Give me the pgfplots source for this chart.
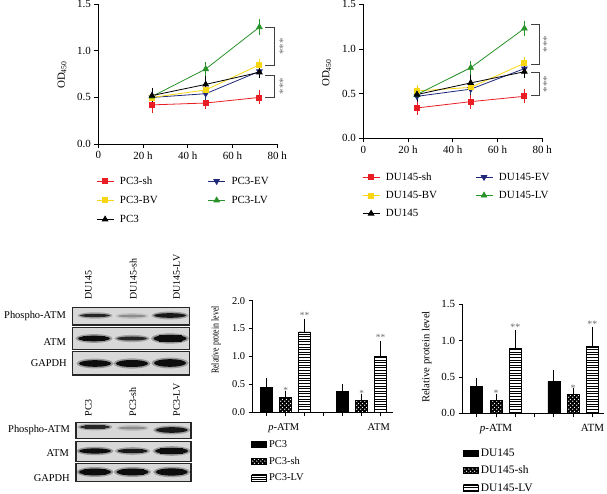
\documentclass[border=0pt]{standalone}
\usepackage{fontspec}
\setmainfont{Liberation Serif}
\usepackage{pgfplots}
\pgfplotsset{compat=1.18}
\usetikzlibrary{patterns}

\definecolor{cred}{RGB}{232,30,36}
\definecolor{cyel}{RGB}{248,214,20}
\definecolor{cblu}{RGB}{32,40,122}
\definecolor{cgrn}{RGB}{40,145,40}
\definecolor{blotbg}{RGB}{216,216,216}
\definecolor{stargray}{RGB}{110,110,110}

\pgfdeclarepatternformonly{wdots}{\pgfqpoint{0bp}{0bp}}{\pgfqpoint{4bp}{4bp}}{\pgfqpoint{4bp}{4bp}}{%
 \pgfpathcircle{\pgfqpoint{1bp}{1bp}}{0.8bp}%
 \pgfpathcircle{\pgfqpoint{3bp}{3bp}}{0.8bp}%
 \pgfusepath{fill}}
\pgfdeclarepatternformonly{hstripes}{\pgfqpoint{-1bp}{0bp}}{\pgfqpoint{21bp}{2.6bp}}{\pgfqpoint{20bp}{2.6bp}}{%
 \pgfsetlinewidth{1bp}%
 \pgfpathmoveto{\pgfqpoint{-1bp}{1.3bp}}\pgfpathlineto{\pgfqpoint{21bp}{1.3bp}}%
 \pgfusepath{stroke}}

\newcommand\fs[1]{\fontsize{#1}{#1}\selectfont}
% band: x y halfwidth halfheight darkness(percent)
\newcommand\band[5]{%
 \fill[black!#5, opacity=0.3] (#1,#2) ellipse ({#3+2.5} and {#4+1.6});
 \fill[black!#5] (#1,#2) ellipse (#3 and #4);
 \fill[black!#5] ({#1-#3+5},{#2-#4*0.85}) rectangle ({#1+#3-5},{#2+#4*0.85});
}

\pgfplotsset{
 lineax/.style={scale only axis, width=179bp, xmin=0, xmax=80, ymin=0, ymax=1.5,
   axis x line*=bottom, axis y line*=left, tick align=outside, major tick length=4bp,
   xtick={0,20,40,60,80}, xticklabels={0,20 h,40 h,60 h,80 h},
   ytick={0,0.5,1,1.5}, yticklabels={0.0,0.5,1.0,1.5},
   axis line style={line width=0.8bp}, tick style={line width=0.8bp, black},
   every tick label/.append style={font=\fs{11}},
   /pgf/number format/assume math mode=true,
   clip=false,
   legend columns=2, legend cell align=left,
   legend style={draw=none, fill=none, font=\fs{11}, at={(0,0)}, anchor=north west,
     /tikz/every odd column/.append style={column sep=4bp}},
 },
 ser/.style={color=#1, line width=0.8bp, mark options={solid},
   error bars/y dir=both, error bars/y explicit,
   error bars/error bar style={line width=0.7bp},
   error bars/error mark options={line width=0.7bp, mark size=2.4bp}},
 barax/.style={scale only axis, ymin=0,
   axis x line*=bottom, axis y line*=left, tick align=outside, major tick length=4bp,
   xtick={0,1,2,3,4,5,6}, xticklabels={,,,,,,},
   axis line style={line width=0.8bp}, tick style={line width=0.8bp, black},
   /pgf/number format/assume math mode=true,
   clip=false, legend cell align=left,
   legend style={draw=none, fill=none, at={(0,0)}, anchor=north west, row sep=4bp}},
 b0/.style={ybar, bar width=12bp, bar shift=0pt, fill=black, draw=black, line width=0.6bp,
   legend image code/.code={\draw[##1] (0bp,-3bp) rectangle (15bp,3bp);},
   error bars/y dir=plus, error bars/y explicit,
   error bars/error bar style={line width=0.8bp, black},
   error bars/error mark options={line width=0.8bp, black, mark size=3.2bp}},
 b1/.style={b0, postaction={pattern=wdots, pattern color=white}},
 b2/.style={b0, pattern=hstripes, pattern color=black},
}

\begin{document}
\begin{tikzpicture}
\path[use as bounding box] (0,0) rectangle (607bp,494bp);

% ---------- top left: PC3 ----------
\begin{axis}[lineax, at={(98.3bp,350bp)}, anchor=south west, height=139.7bp,
  legend style={row sep=6.3bp, xshift=-5.3bp, yshift=-28.4bp, /tikz/every even column/.append style={column sep=48bp}}]
\addplot[ser=cred, mark=square*, mark size=2.5bp] coordinates {(24,0.42) +- (0,0.06) (48,0.44) +- (0,0.04) (72,0.50) +- (0,0.05)};
\addlegendentry{PC3-sh}
\addplot[ser=cblu, mark=triangle*, mark options={solid, rotate=180}, mark size=3.2bp] coordinates {(24,0.50) +- (0,0.04) (48,0.54) +- (0,0.04) (72,0.78) +- (0,0.04)};
\addlegendentry{PC3-EV}
\addplot[ser=cyel, mark=square*, mark size=2.5bp] coordinates {(24,0.50) +- (0,0.04) (48,0.58) +- (0,0.05) (72,0.85) +- (0,0.04)};
\addlegendentry{PC3-BV}
\addplot[ser=cgrn, mark=triangle*, mark size=3.2bp] coordinates {(24,0.51) +- (0,0.04) (48,0.805) +- (0,0.055) (72,1.255) +- (0,0.06)};
\addlegendentry{PC3-LV}
\addplot[ser=black, mark=triangle*, mark size=3.2bp] coordinates {(24,0.52) +- (0,0.06) (48,0.64) +- (0,0.06) (72,0.77) +- (0,0.04)};
\addlegendentry{PC3}
\draw[black!75, line width=0.8bp] (axis cs:74.5,1.25) -- (axis cs:78.7,1.25) -- (axis cs:78.7,0.84) -- (axis cs:74.5,0.84);
\draw[black!75, line width=0.8bp] (axis cs:74.5,0.74) -- (axis cs:78.7,0.74) -- (axis cs:78.7,0.50) -- (axis cs:74.5,0.50);
\node[rotate=90, stargray, font=\fs{11}] at (axis cs:82.6,1.045) {***};
\node[rotate=90, stargray, font=\fs{11}] at (axis cs:82.6,0.62) {***};
\end{axis}

% ---------- top right: DU145 ----------
\begin{axis}[lineax, at={(363.3bp,355.7bp)}, anchor=south west, height=134bp,
  legend style={row sep=5.4bp, xshift=-4.3bp, yshift=-30.1bp, /tikz/every even column/.append style={column sep=36bp}}]
\addplot[ser=cred, mark=square*, mark size=2.5bp] coordinates {(24,0.34) +- (0,0.05) (48,0.41) +- (0,0.05) (72,0.47) +- (0,0.05)};
\addlegendentry{DU145-sh}
\addplot[ser=cblu, mark=triangle*, mark options={solid, rotate=180}, mark size=3.2bp] coordinates {(24,0.47) +- (0,0.04) (48,0.55) +- (0,0.04) (72,0.78) +- (0,0.04)};
\addlegendentry{DU145-EV}
\addplot[ser=cyel, mark=square*, mark size=2.5bp] coordinates {(24,0.53) +- (0,0.04) (48,0.57) +- (0,0.04) (72,0.84) +- (0,0.04)};
\addlegendentry{DU145-BV}
\addplot[ser=cgrn, mark=triangle*, mark size=3.2bp] coordinates {(24,0.49) +- (0,0.04) (48,0.79) +- (0,0.05) (72,1.23) +- (0,0.06)};
\addlegendentry{DU145-LV}
\addplot[ser=black, mark=triangle*, mark size=3.2bp] coordinates {(24,0.49) +- (0,0.05) (48,0.62) +- (0,0.06) (72,0.745) +- (0,0.04)};
\addlegendentry{DU145}
\draw[black!75, line width=0.8bp] (axis cs:75.1,1.28) -- (axis cs:78.5,1.28) -- (axis cs:78.5,0.83) -- (axis cs:75.1,0.83);
\draw[black!75, line width=0.8bp] (axis cs:75.1,0.734) -- (axis cs:78.5,0.734) -- (axis cs:78.5,0.477) -- (axis cs:75.1,0.477);
\node[rotate=90, stargray, font=\fs{11}] at (axis cs:82,1.055) {***};
\node[rotate=90, stargray, font=\fs{11}] at (axis cs:82,0.605) {***};
\end{axis}

% ---------- bottom middle: PC3 bars ----------
\begin{axis}[barax, at={(252.7bp,81.7bp)}, anchor=south west, width=140.3bp, height=111.6bp,
  xmin=-0.74, xmax=6.65, ymax=2, ytick={0,0.5,1,1.5,2}, yticklabels={0.0,0.5,1.0,1.5,2.0},
  every tick label/.append style={font=\fs{10.5}},
  legend style={font=\fs{10.5}, xshift=-4.4bp, yshift=-24bp}]
\addplot[b0] coordinates {(0,0.44) +- (0,0.12) (4,0.38) +- (0,0.065)};
\addlegendentry{PC3}
\addplot[b1] coordinates {(1,0.27) +- (0,0.05) (5,0.21) +- (0,0.057)};
\addlegendentry{PC3-sh}
\addplot[b2] coordinates {(2,1.44) +- (0,0.18) (6,1.00) +- (0,0.228)};
\addlegendentry{PC3-LV}
\node[stargray, font=\fs{9.5}] at (axis cs:1,0.40) {*};
\node[stargray, font=\fs{9.5}] at (axis cs:5,0.34) {*};
\node[stargray, font=\fs{9.5}] at (axis cs:2,1.73) {**};
\node[stargray, font=\fs{9.5}] at (axis cs:6,1.34) {**};
\node[anchor=base, yshift=-18bp, font=\fs{10.5}] at (axis cs:0.9,0) {\textit{p}-ATM};
\node[anchor=base, yshift=-18bp, font=\fs{10.5}] at (axis cs:5.9,0) {ATM};
\end{axis}

% ---------- bottom right: DU145 bars ----------
\begin{axis}[barax, at={(462.7bp,80.7bp)}, anchor=south west, width=141.3bp, height=109bp,
  xmin=-0.73, xmax=6.6, ymax=1.5, ytick={0,0.5,1,1.5}, yticklabels={0.0,0.5,1.0,1.5},
  every tick label/.append style={font=\fs{11}},
  legend style={font=\fs{11.5}, xshift=-2.7bp, yshift=-31.5bp}]
\addplot[b0] coordinates {(0,0.37) +- (0,0.07) (4,0.44) +- (0,0.106)};
\addlegendentry{DU145}
\addplot[b1] coordinates {(1,0.18) +- (0,0.04) (5,0.26) +- (0,0.04)};
\addlegendentry{DU145-sh}
\addplot[b2] coordinates {(2,0.89) +- (0,0.21) (6,0.92) +- (0,0.22)};
\addlegendentry{DU145-LV}
\node[stargray, font=\fs{10}] at (axis cs:1,0.28) {*};
\node[stargray, font=\fs{10}] at (axis cs:5,0.345) {*};
\node[stargray, font=\fs{10}] at (axis cs:2,1.18) {**};
\node[stargray, font=\fs{10}] at (axis cs:6,1.23) {**};
\node[anchor=base, yshift=-18.7bp, font=\fs{11}] at (axis cs:1,0) {\textit{p}-ATM};
\node[anchor=base, yshift=-18.7bp, font=\fs{11}] at (axis cs:6,0) {ATM};
\end{axis}

% ---------- labels and blots in image coordinates ----------
\begin{scope}[x=1bp, y=-1bp, shift={(0bp,494bp)}]
\node[rotate=90, font=\fs{11}] at (62,75) {OD\textsubscript{450}};
\node[rotate=90, font=\fs{11}] at (326.7,73) {OD\textsubscript{450}};
\node[rotate=90, font=\fs{10.5}] at (216,340) {\scalebox{0.75}[1]{Relative protein level}};
\node[rotate=90, font=\fs{10.7}] at (426.7,357) {Relative protein level};

% blot 1 (DU145)
\foreach \xx/\tt in {88.3/DU145, 133.3/DU145-sh, 176.7/DU145-LV}
  \node[rotate=90, anchor=west, inner sep=0pt, font=\fs{10}] at (\xx,300) {\tt};
\draw[line width=1.2bp, black!85, fill=blotbg] (72.7,307.3) rectangle (189.3,325);
\draw[line width=1.2bp, black!85, fill=blotbg] (72.7,327.3) rectangle (189.3,349.3);
\draw[line width=1.2bp, black!85, fill=blotbg] (72.7,351.7) rectangle (189.3,375);
\band{95}{315.5}{15}{1.6}{85}
\band{132}{316}{14}{1.3}{45}
\band{170}{315.5}{16}{2.3}{90}
\band{94}{338.5}{16}{2.8}{95}
\band{132}{338.5}{15}{2.0}{85}
\band{170}{338.5}{16.5}{3.6}{95}
\band{95}{363.5}{16}{3.3}{95}
\band{132}{363.5}{16}{3.5}{95}
\band{170}{363}{16}{3.8}{95}
\node[anchor=east, inner sep=0pt, font=\fs{10.5}] at (66,316) {Phospho-ATM};
\node[anchor=east, inner sep=0pt, font=\fs{10.5}] at (66,341.7) {ATM};
\node[anchor=east, inner sep=0pt, font=\fs{10.5}] at (67,363.3) {GAPDH};

% blot 2 (PC3)
\foreach \xx/\tt in {88.3/PC3, 132.7/PC3-sh, 176.7/PC3-LV}
  \node[rotate=90, anchor=west, inner sep=0pt, font=\fs{10}] at (\xx,416.7) {\tt};
\draw[line width=1.2bp, black!85, fill=blotbg] (76,422.7) rectangle (191,438.3);
\draw[line width=1.2bp, black!85, fill=blotbg] (76,441.7) rectangle (191,461.7);
\draw[line width=1.2bp, black!85, fill=blotbg] (76,463.3) rectangle (191,481.7);
\band{95}{427}{15}{1.8}{85}
\band{132.5}{428}{14}{1.4}{45}
\band{171.7}{430}{16}{2.8}{90}
\band{95}{451}{16}{2.6}{95}
\band{132.5}{451}{15}{2.2}{90}
\band{171.7}{451}{16.5}{3.2}{95}
\band{95}{472}{16}{3.4}{95}
\band{132.5}{472}{16}{3.4}{95}
\band{171.7}{472}{16}{3.6}{95}
\node[anchor=east, inner sep=0pt, font=\fs{10.5}] at (70,430) {Phospho-ATM};
\node[anchor=east, inner sep=0pt, font=\fs{10.5}] at (69,452.7) {ATM};
\node[anchor=east, inner sep=0pt, font=\fs{10.5}] at (70,478.3) {GAPDH};
\end{scope}
\end{tikzpicture}
\end{document}
